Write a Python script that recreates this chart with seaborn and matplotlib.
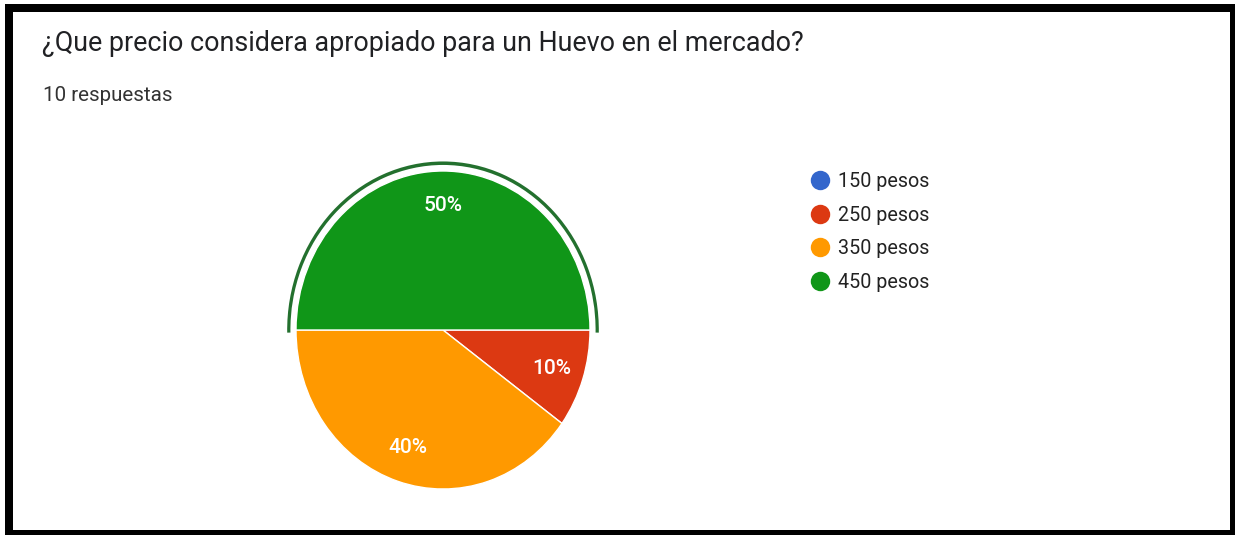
import matplotlib
matplotlib.use("Agg")
import matplotlib.pyplot as plt
from matplotlib.patches import Rectangle, Wedge
from matplotlib.lines import Line2D
import seaborn as sns

# Survey results
categories = ["150 pesos", "250 pesos", "350 pesos", "450 pesos"]
responses = [0, 1, 4, 5]
slice_colors = ["#3366cc", "#dc3912", "#ff9900", "#109618"]
title = "¿Que precio considera apropiado para un Huevo en el mercado?"
subtitle = "10 respuestas"

sns.set_style("white")
plt.rcParams["font.family"] = ["Roboto", "DejaVu Sans"]
palette = sns.color_palette(slice_colors)

W, H = 1235, 535
fig = plt.figure(figsize=(W / 100, H / 100), dpi=100)
fig.patch.set_facecolor("white")

# Black card frame
fig.patches.append(Rectangle((5 / W, 0), 1230 / W, 531 / H, transform=fig.transFigure,
                             facecolor="black", edgecolor="none", zorder=-3))
fig.patches.append(Rectangle((13 / W, 5 / H), 1217 / W, 518 / H, transform=fig.transFigure,
                             facecolor="white", edgecolor="none", zorder=-2))

# Header text
fig.text(42 / W, 1 - 51 / H, title, fontsize=19.4, color="#202124", va="baseline", ha="left")
fig.text(43 / W, 1 - 101 / H, subtitle, fontsize=14.8, color="#333333", va="baseline", ha="left")

# Pie axes (center 443,330 px; radii 147 x 159 px)
cx, cy, rx, ry = 443, 330, 147, 159
lim = 1.2
ax = fig.add_axes([(cx - lim * rx) / W, (H - cy - lim * ry) / H, 2 * lim * rx / W, 2 * lim * ry / H])


def pct_label(p):
    return f"{p:.0f}%" if p > 0.5 else ""


wedges, texts, autotexts = ax.pie(
    responses, colors=palette, startangle=0, counterclock=False,
    autopct=pct_label, pctdistance=0.78,
    wedgeprops=dict(edgecolor="white", linewidth=1),
    textprops=dict(color="white", fontsize=15, fontweight="medium"),
)
ax.set_aspect("auto")
ax.set_xlim(-lim, lim)
ax.set_ylim(-lim, lim)
ax.axis("off")

# Highlight ring around the largest slice
ax.add_patch(Wedge((0, 0), 1.06, -0.9, 180.9, width=0.022, facecolor="#23702e", edgecolor="none"))

# Legend
handles = [Line2D([], [], linestyle="none", marker="o", markersize=14, markerfacecolor=c,
                  markeredgecolor="none") for c in palette]
fig.legend(handles, categories, loc="upper left",
           bbox_to_anchor=(810 / W, 1 - 172 / H), bbox_transform=fig.transFigure,
           frameon=False, borderpad=0, borderaxespad=0, handlelength=1.0,
           handletextpad=0.4, labelspacing=0.74, fontsize=14.2, labelcolor="#222222")

fig.savefig("out.png", dpi=100)
